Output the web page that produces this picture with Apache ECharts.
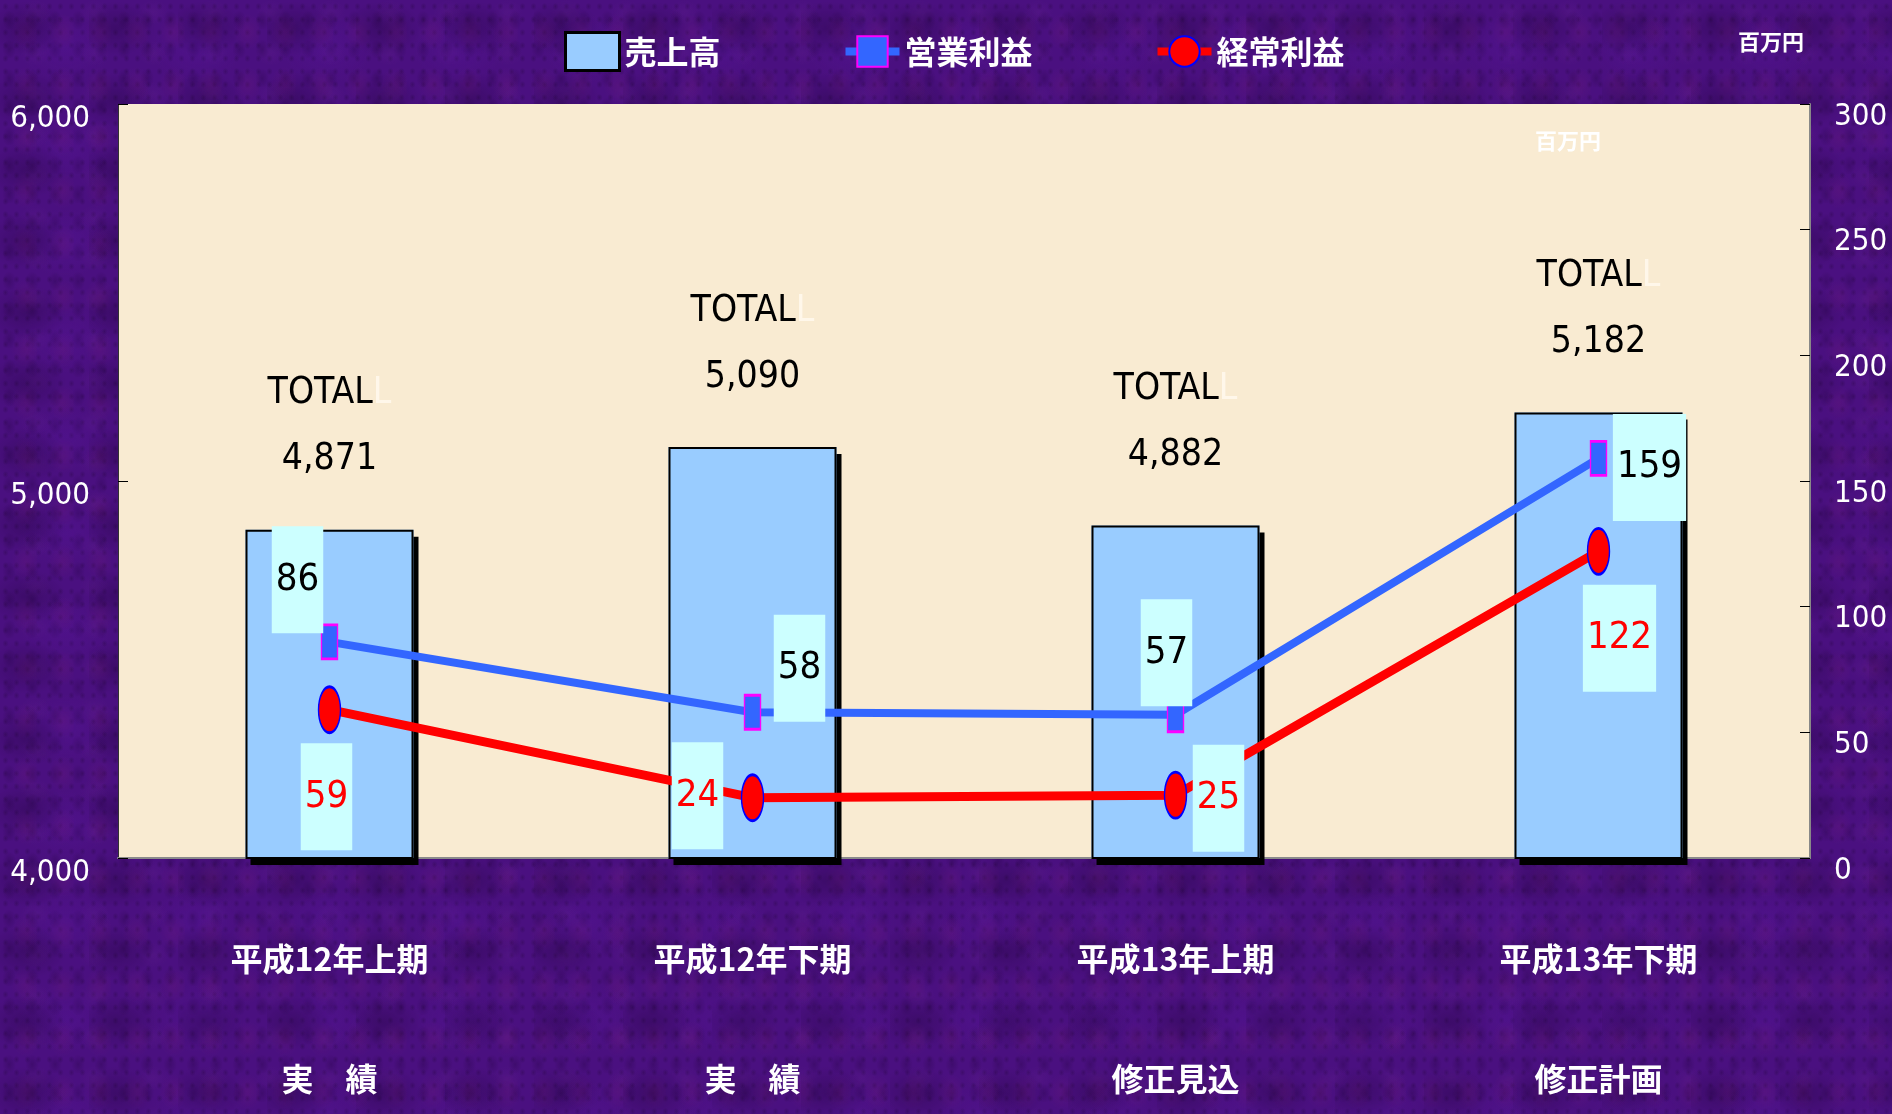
<!DOCTYPE html>
<html>
<head>
<meta charset="utf-8">
<script src="https://cdn.jsdelivr.net/npm/echarts@6/dist/echarts.min.js"></script>
<style>
  html, body { margin: 0; padding: 0; }
  body {
    background-color: #4a1080;
    background-image:
      radial-gradient(ellipse at 30% 40%, rgba(22, 0, 40, 0.26) 0, transparent 45%),
      radial-gradient(ellipse at 70% 60%, rgba(125, 30, 120, 0.20) 0, transparent 40%),
      radial-gradient(ellipse at 50% 50%, rgba(95, 25, 175, 0.20) 0, transparent 50%),
      radial-gradient(ellipse at 40% 70%, rgba(30, 0, 55, 0.25) 0, transparent 35%),
      radial-gradient(ellipse at 60% 30%, rgba(110, 40, 150, 0.18) 0, transparent 30%),
      radial-gradient(ellipse at 50% 50%, rgba(20, 0, 35, 0.22) 0, transparent 40%);
    background-size: 89px 71px, 37px 53px, 131px 97px, 23px 29px, 59px 41px, 11px 13px;
  }
  #chart { width: 1892px; height: 1114px; }
</style>
</head>
<body>
<div id="chart"></div>
<script>
const periods = ['平成12年上期', '平成12年下期', '平成13年上期', '平成13年下期']
const periodKinds = ['実　績', '実　績', '修正見込', '修正計画']

const sales = [4871, 5090, 4882, 5182]
const operatingProfit = [86, 58, 57, 159]
const ordinaryProfit = [59, 24, 25, 122]

const salesAxis = [4000, 6000, 1000]   // min, max, interval
const profitAxis = [0, 300, 50]

// label box offsets from each marker (px)
const opLabelOffset = [[-32, -62], [47, -44], [-9, -62], [51, 9]]
const ordLabelOffset = [[-3, 87], [-55, -2], [43, 3], [21, 87]]

const narrow = "'Liberation Sans Narrow', 'Arial Narrow', 'DejaVu Sans Condensed', sans-serif"
const jp = "'Noto Sans CJK JP', sans-serif"

const chart = echarts.init(document.getElementById('chart'))

const boxLabel = (color, offsets) => (v, i) => ({
  value: v,
  label: {
    show: true,
    position: 'inside',
    offset: offsets[i],
    color: color,
    fontFamily: narrow,
    fontSize: 38,
    backgroundColor: '#CCFFFF',
    padding: [33, 4, 33, 4],
    lineHeight: 41
  }
})

const option = {
  backgroundColor: 'transparent',
  animation: false,
  legend: {
    left: 559,
    top: 26,
    itemGap: 121,
    itemWidth: 54,
    itemHeight: 38,
    textStyle: { color: '#fff', fontFamily: jp, fontWeight: 'bold', fontSize: 32 },
    data: [
      { name: '売上高', icon: 'rect', itemStyle: { color: '#99CCFF', borderColor: '#000', borderWidth: 3 } },
      { name: '営業利益', lineStyle: { width: 8 } },
      { name: '経常利益', lineStyle: { width: 8 } }
    ]
  },
  grid: {
    left: 118,
    right: 82,
    top: 104,
    bottom: 256,
    outerBoundsMode: 'none',
    show: true,
    backgroundColor: '#F9EBD2',
    borderWidth: 0
  },
  graphic: [
    {
      type: 'text', right: 88, top: 31,
      style: { text: '百万円', fill: '#fff', font: "bold 22px 'Noto Sans CJK JP'" }
    },
    {
      type: 'text', left: 1535, top: 130,
      style: { text: '百万円', fill: '#fff', font: "bold 22px 'Noto Sans CJK JP'" }
    }
  ],
  xAxis: [
    {
      type: 'category',
      data: periods.map((p, i) => p + '\n' + periodKinds[i]),
      axisLine: { lineStyle: { color: '#8a8a8a', width: 2 } },
      axisTick: { length: 262, lineStyle: { color: '#111', width: 1 } },
      axisLabel: {
        color: '#fff',
        fontFamily: jp,
        fontWeight: 'bold',
        fontSize: 32,
        lineHeight: 120,
        margin: 41
      }
    },
    {
      type: 'category',
      data: periods,
      position: 'bottom',
      axisLine: { show: false },
      axisLabel: { show: false },
      axisTick: { inside: true, length: 21, lineStyle: { color: '#111', width: 1 } }
    }
  ],
  yAxis: [
    {
      type: 'value',
      min: salesAxis[0],
      max: salesAxis[1],
      interval: salesAxis[2],
      axisLine: { show: true, lineStyle: { color: '#333', width: 1 } },
      axisTick: { show: true, inside: true, length: 10, lineStyle: { color: '#000' } },
      splitLine: { show: false },
      axisLabel: {
        color: '#fff',
        fontFamily: narrow,
        fontSize: 31,
        margin: 28,
        verticalAlign: 'top',
        lineHeight: 30,
        formatter: v => v.toLocaleString('en-US')
      }
    },
    {
      type: 'value',
      min: profitAxis[0],
      max: profitAxis[1],
      interval: profitAxis[2],
      position: 'right',
      axisLine: { show: true, lineStyle: { color: '#888', width: 2 } },
      axisTick: { show: true, inside: true, length: 10, lineStyle: { color: '#000' } },
      splitLine: { show: false },
      axisLabel: {
        color: '#fff',
        fontFamily: narrow,
        fontSize: 31,
        margin: 24,
        verticalAlign: 'top',
        lineHeight: 25
      }
    }
  ],
  series: [
    {
      name: '売上高',
      type: 'bar',
      yAxisIndex: 0,
      data: sales,
      barWidth: 168,
      itemStyle: {
        color: '#99CCFF',
        shadowColor: '#000',
        shadowBlur: 0,
        shadowOffsetX: 5,
        shadowOffsetY: 7
      },
      label: {
        show: true,
        position: 'top',
        distance: 37,
        formatter: p => '{t|TOTAL}{g|L}\n{t|' + p.value.toLocaleString('en-US') + '}',
        rich: {
          t: { color: '#000', fontFamily: narrow, fontSize: 37, lineHeight: 66 },
          g: { color: '#FFF7EA', fontFamily: narrow, fontSize: 37, lineHeight: 66 }
        }
      }
    },
    {
      // black outline drawn on top of the bars
      name: '売上高',
      type: 'bar',
      yAxisIndex: 0,
      data: sales,
      barWidth: 168,
      barGap: '-100%',
      silent: true,
      itemStyle: { color: 'transparent', borderColor: '#000', borderWidth: 2 }
    },
    {
      name: '営業利益',
      type: 'line',
      yAxisIndex: 1,
      data: operatingProfit.map(boxLabel('#000', opLabelOffset)),
      symbol: 'rect',
      symbolSize: [16, 34],
      lineStyle: { color: '#3366FF', width: 8 },
      itemStyle: { color: '#3366FF', borderColor: '#FF00FF', borderWidth: 2 }
    },
    {
      name: '経常利益',
      type: 'line',
      yAxisIndex: 1,
      data: ordinaryProfit.map(boxLabel('#FF0000', ordLabelOffset)),
      symbol: 'circle',
      symbolSize: [22, 46],
      lineStyle: { color: '#FF0000', width: 9 },
      itemStyle: { color: '#FF0000', borderColor: '#0000FF', borderWidth: 2 }
    }
  ]
}

chart.setOption(option)
</script>
</body>
</html>
